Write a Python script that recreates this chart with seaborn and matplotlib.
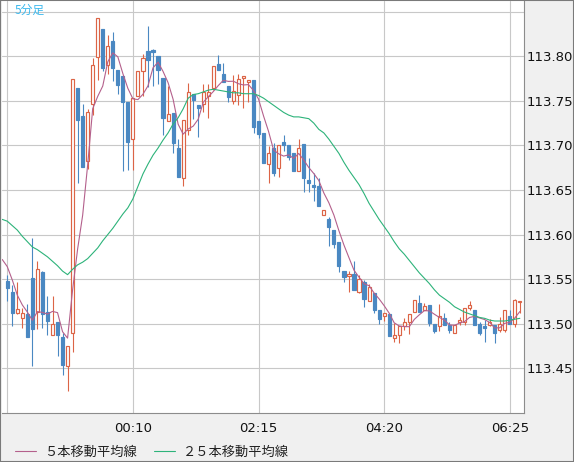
import numpy as np
import pandas as pd
import matplotlib
matplotlib.use("Agg")
import matplotlib.pyplot as plt
import seaborn as sns
from matplotlib.patches import Rectangle

sns.set_style("white")
plt.rcParams["font.family"] = ["DejaVu Sans", "Noto Sans CJK JP"]

# 5-minute bars, first bar at 22:05
first_bar = "22:05"

open_ = [113.548, 113.535, 113.512, 113.506, 113.511, 113.551, 113.513, 113.558, 113.513, 113.487,
         113.502, 113.485, 113.452, 113.490, 113.764, 113.733, 113.683, 113.747, 113.799, 113.831,
         113.790, 113.817, 113.785, 113.778, 113.749, 113.707, 113.755, 113.784, 113.806, 113.807,
         113.800, 113.776, 113.727, 113.736, 113.697, 113.663, 113.717, 113.758, 113.745, 113.746,
         113.755, 113.764, 113.791, 113.780, 113.767, 113.750, 113.757, 113.776, 113.771, 113.773,
         113.727, 113.714, 113.679, 113.697, 113.675, 113.704, 113.700, 113.691, 113.671, 113.702,
         113.661, 113.656, 113.654, 113.622, 113.617, 113.605, 113.592, 113.559, 113.553, 113.556,
         113.536, 113.547, 113.525, 113.534, 113.515, 113.509, 113.511, 113.484, 113.487, 113.497,
         113.502, 113.513, 113.523, 113.515, 113.521, 113.500, 113.497, 113.506, 113.499, 113.490,
         113.502, 113.502, 113.518, 113.515, 113.500, 113.497, 113.499, 113.499, 113.493, 113.493,
         113.509, 113.500, 113.524]

high = [113.555, 113.543, 113.547, 113.518, 113.522, 113.596, 113.570, 113.559, 113.531, 113.531,
        113.502, 113.490, 113.475, 113.774, 113.764, 113.747, 113.741, 113.798, 113.843, 113.831,
        113.824, 113.827, 113.785, 113.778, 113.749, 113.753, 113.783, 113.803, 113.834, 113.808,
        113.800, 113.776, 113.767, 113.736, 113.707, 113.729, 113.770, 113.758, 113.745, 113.769,
        113.769, 113.789, 113.801, 113.792, 113.767, 113.779, 113.780, 113.778, 113.773, 113.773,
        113.727, 113.714, 113.699, 113.703, 113.700, 113.712, 113.700, 113.691, 113.707, 113.702,
        113.686, 113.669, 113.663, 113.627, 113.620, 113.605, 113.592, 113.559, 113.559, 113.570,
        113.555, 113.549, 113.545, 113.534, 113.515, 113.512, 113.511, 113.501, 113.497, 113.506,
        113.511, 113.527, 113.532, 113.523, 113.521, 113.500, 113.522, 113.512, 113.502, 113.499,
        113.507, 113.518, 113.525, 113.515, 113.502, 113.504, 113.505, 113.499, 113.508, 113.515,
        113.515, 113.528, 113.526]

low = [113.525, 113.497, 113.511, 113.495, 113.485, 113.453, 113.494, 113.495, 113.487, 113.487,
       113.464, 113.442, 113.424, 113.468, 113.658, 113.676, 113.674, 113.734, 113.773, 113.784,
       113.780, 113.772, 113.758, 113.671, 113.672, 113.672, 113.755, 113.755, 113.766, 113.767,
       113.769, 113.712, 113.727, 113.691, 113.665, 113.654, 113.712, 113.730, 113.709, 113.738,
       113.731, 113.762, 113.785, 113.771, 113.749, 113.746, 113.745, 113.742, 113.749, 113.714,
       113.708, 113.680, 113.658, 113.666, 113.665, 113.694, 113.684, 113.671, 113.671, 113.648,
       113.648, 113.638, 113.632, 113.622, 113.587, 113.585, 113.558, 113.547, 113.536, 113.538,
       113.534, 113.519, 113.525, 113.512, 113.500, 113.503, 113.486, 113.480, 113.478, 113.493,
       113.488, 113.513, 113.513, 113.515, 113.497, 113.490, 113.492, 113.498, 113.490, 113.490,
       113.499, 113.499, 113.515, 113.498, 113.487, 113.480, 113.497, 113.478, 113.491, 113.491,
       113.500, 113.496, 113.512]

close = [113.540, 113.512, 113.516, 113.512, 113.485, 113.494, 113.561, 113.511, 113.503, 113.500,
         113.487, 113.454, 113.475, 113.774, 113.729, 113.676, 113.737, 113.790, 113.843, 113.787,
         113.812, 113.787, 113.768, 113.749, 113.704, 113.753, 113.783, 113.798, 113.796, 113.805,
         113.785, 113.731, 113.735, 113.703, 113.665, 113.729, 113.760, 113.751, 113.742, 113.760,
         113.760, 113.789, 113.785, 113.771, 113.754, 113.761, 113.775, 113.778, 113.773, 113.721,
         113.713, 113.680, 113.691, 113.669, 113.700, 113.700, 113.687, 113.671, 113.697, 113.663,
         113.658, 113.653, 113.632, 113.627, 113.608, 113.589, 113.565, 113.552, 113.556, 113.538,
         113.550, 113.528, 113.541, 113.515, 113.505, 113.512, 113.486, 113.487, 113.497, 113.502,
         113.511, 113.527, 113.513, 113.520, 113.501, 113.492, 113.509, 113.498, 113.493, 113.499,
         113.504, 113.518, 113.521, 113.499, 113.490, 113.495, 113.502, 113.490, 113.500, 113.515,
         113.500, 113.527, 113.526]

# moving averages start one bar before the first visible candle
ma5_head = [113.572, 113.564, 113.549, 113.532, 113.521]

ma25 = [113.617, 113.615, 113.610, 113.605, 113.598, 113.592, 113.586, 113.583, 113.579, 113.575,
        113.570, 113.565, 113.559, 113.555, 113.561, 113.566, 113.569, 113.573, 113.579, 113.585,
        113.593, 113.600, 113.607, 113.615, 113.623, 113.630, 113.640, 113.654, 113.668, 113.679,
        113.689, 113.697, 113.706, 113.714, 113.724, 113.731, 113.741, 113.753, 113.757, 113.758,
        113.760, 113.762, 113.763, 113.762, 113.761, 113.760, 113.759, 113.759, 113.758, 113.758,
        113.758, 113.756, 113.753, 113.749, 113.745, 113.741, 113.737, 113.734, 113.732, 113.732,
        113.731, 113.730, 113.725, 113.718, 113.714, 113.707, 113.699, 113.691, 113.681, 113.672,
        113.664, 113.656, 113.646, 113.635, 113.626, 113.617, 113.609, 113.601, 113.592, 113.584,
        113.578, 113.571, 113.564, 113.557, 113.551, 113.545, 113.538, 113.532, 113.528, 113.524,
        113.519, 113.516, 113.513, 113.511, 113.509, 113.507, 113.506, 113.504, 113.503, 113.503,
        113.503, 113.504, 113.505, 113.506]

UP = "#dc6446"
DOWN = "#4a88c2"
MA5_C = "#b4608c"
MA25_C = "#2db37a"

n = len(close)
candles = pd.DataFrame({"bar": np.arange(n), "open": open_, "high": high,
                        "low": low, "close": close})
candles["up"] = candles["close"] >= candles["open"]
candles["lo"] = candles[["open", "close"]].min(axis=1)
candles["h"] = (candles["close"] - candles["open"]).abs()

ma = pd.DataFrame({"bar": np.arange(-1, n)})
ma["ma5"] = np.concatenate([ma5_head, candles["close"].rolling(5).mean().to_numpy()[4:]])
ma["ma25"] = ma25

bar_times = pd.date_range("2000-01-01 " + first_bar, periods=n, freq="5min").strftime("%H:%M")

fig = plt.figure(figsize=(5.74, 4.62), dpi=100, facecolor="#f0f0f0")
ax = fig.add_axes([2 / 574, 49 / 462, 522 / 574, 412 / 462])
ax.set_facecolor("white")

# candles
ax.vlines(candles["bar"], candles["low"], candles["high"],
          colors=np.where(candles["up"], UP, DOWN), linewidth=0.8, zorder=2)
ax.bar(candles["bar"], candles["h"], bottom=candles["lo"], width=0.62,
       color=np.where(candles["up"], "white", DOWN),
       edgecolor=np.where(candles["up"], UP, DOWN), linewidth=0.85, zorder=3)

sns.lineplot(data=ma, x="bar", y="ma5", color=MA5_C, linewidth=0.8, ax=ax,
             label="５本移動平均線", zorder=4)
sns.lineplot(data=ma, x="bar", y="ma25", color=MA25_C, linewidth=0.8, ax=ax,
             label="２５本移動平均線", zorder=4)

ax.set_xlim(-1.05, 102.83)
ax.set_ylim(113.3998, 113.862)
ax.set_xlabel("")
ax.set_ylabel("")

xt = np.arange(0, n, 25)
ax.set_xticks(xt)
ax.set_xticklabels([""] + list(bar_times[xt[1:]]))
yt = np.round(np.arange(113.45, 113.851, 0.05), 2)
ax.yaxis.tick_right()
ax.set_yticks(yt)
ax.set_yticklabels([f"{v:.2f}" if v < 113.85 else "" for v in yt])
ax.tick_params(axis="y", length=0, pad=1.5, labelsize=9.5, labelcolor="#111111")
ax.tick_params(axis="x", length=0, pad=6.5, labelsize=9.5, labelcolor="#111111")
ax.grid(True, color="#c8c8c8", linewidth=0.8)
ax.set_axisbelow(True)

for s in ["left", "top"]:
    ax.spines[s].set_visible(False)
for s in ["bottom", "right"]:
    ax.spines[s].set_color("#8c8c8c")
    ax.spines[s].set_linewidth(0.8)

ax.get_legend().remove()
handles, labels = ax.get_legend_handles_labels()
fig.legend(handles, labels, loc="center left", bbox_to_anchor=(15 / 574, 9.5 / 462),
           ncol=2, frameon=False, handlelength=1.6, handletextpad=0.6,
           columnspacing=1.3, borderpad=0, borderaxespad=0,
           prop={"family": ["Noto Sans CJK JP", "DejaVu Sans"], "size": 9.5},
           labelcolor="#222222")

fig.text(15 / 574, 1 - 4 / 462, "5分足", color="#3bb9ee", fontsize=8.5, va="top",
         family=["Noto Sans CJK JP", "DejaVu Sans"])

fig.patches.append(Rectangle((0, 0), 1, 1, transform=fig.transFigure, fill=False,
                             edgecolor="#7a7a7a", linewidth=1.5))

fig.savefig("out.png", dpi=100, facecolor=fig.get_facecolor())
